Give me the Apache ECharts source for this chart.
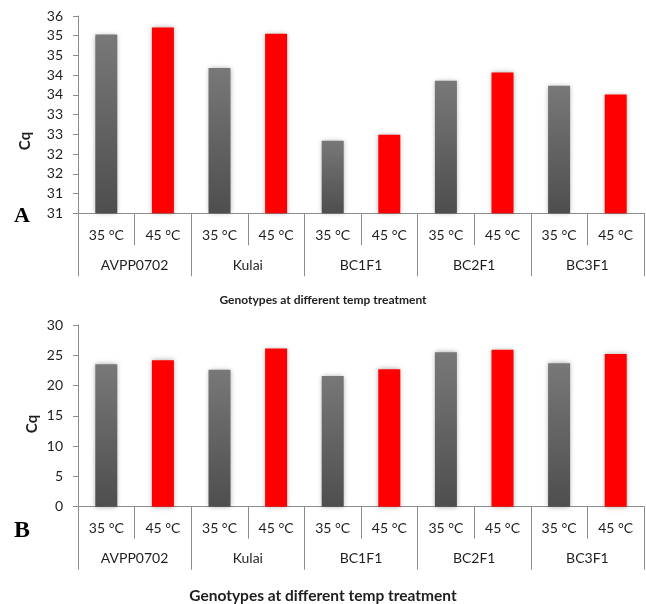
<!DOCTYPE html>
<html>
<head>
<meta charset="utf-8">
<script src="https://cdn.jsdelivr.net/npm/echarts@6/dist/echarts.min.js"></script>
<style>
html,body{margin:0;padding:0;background:#fff;}
#main{width:646px;height:604px;}
</style>
</head>
<body>
<div id="main"></div>
<script>
// ---- data ----
var genotypes = ['AVPP0702', 'Kulai', 'BC1F1', 'BC2F1', 'BC3F1'];
var temps = ['35 °C', '45 °C'];
// Panel A (Cq), order: genotype x temp
var cqA = [35.53, 35.71, 34.68, 35.55, 32.84, 32.99, 34.36, 34.57, 34.23, 34.01];
// Panel B (Cq)
var cqB = [23.5, 24.2, 22.6, 26.1, 21.6, 22.7, 25.5, 25.9, 23.7, 25.2];
var yTicksA = { min: 31, max: 36, step: 0.5 };
var yTicksB = { min: 0, max: 30, step: 5 };
var xTitle = 'Genotypes at different temp treatment';
var yTitle = 'Cq';

// ---- build ----
var cats = [];
genotypes.forEach(function (g) { temps.forEach(function (t) { cats.push(g + '|' + t); }); });

var FONT = 'Lato';
var TXT = '#1e1e1e';
var AX = '#8c8c8c';

var grayGrad = new echarts.graphic.LinearGradient(0, 0, 0, 1, [
  { offset: 0, color: '#787878' }, { offset: 1, color: '#4e4e4e' }
]);
function barData(vals) {
  return vals.map(function (v, i) {
    return {
      value: v,
      itemStyle: { color: (i % 2 === 0) ? grayGrad : '#ff0000' }
    };
  });
}

var grids = [
  { left: 78, right: 2, top: 16, height: 197.3 },
  { left: 78, right: 2, top: 325, height: 181.7 }
];

var xAxes = [], yAxes = [], series = [];
[0, 1].forEach(function (gi) {
  xAxes.push({
    type: 'category', gridIndex: gi, data: cats, position: 'bottom',
    axisLine: { show: true, lineStyle: { color: AX, width: 1 } },
    axisTick: { show: true, interval: 0, length: 32, lineStyle: { color: AX } },
    axisLabel: {
      interval: 0, margin: 15, color: TXT, fontFamily: FONT, fontSize: 14,
      formatter: function (v) { return v.split('|')[1]; }
    },
    splitLine: { show: false }
  });
  xAxes.push({
    type: 'category', gridIndex: gi, data: genotypes, position: 'bottom',
    axisLine: { show: false },
    axisTick: { show: true, interval: 0, length: 63, lineStyle: { color: AX } },
    axisLabel: { interval: 0, margin: 45, color: TXT, fontFamily: FONT, fontSize: 14 },
    splitLine: { show: false }
  });
});

var yt = [yTicksA, yTicksB];
[0, 1].forEach(function (gi) {
  yAxes.push({
    type: 'value', gridIndex: gi,
    min: yt[gi].min, max: yt[gi].max, interval: yt[gi].step,
    axisLine: { show: true, lineStyle: { color: AX } },
    axisTick: { show: true, length: 5, lineStyle: { color: AX } },
    axisLabel: {
      margin: 15, color: TXT, fontFamily: FONT, fontSize: 14,
      formatter: function (v) { return String(Math.floor(v + 1e-9)); }
    },
    splitLine: { show: false }
  });
});

[cqA, cqB].forEach(function (vals, gi) {
  series.push({
    type: 'bar', xAxisIndex: gi * 2, yAxisIndex: gi,
    data: barData(vals), barWidth: 22,
    itemStyle: { shadowBlur: 5, shadowColor: 'rgba(0,0,0,0.35)' },
    silent: true
  });
});

var chart = echarts.init(document.getElementById('main'));
chart.setOption({
  animation: false,
  backgroundColor: '#ffffff',
  grid: grids,
  xAxis: xAxes,
  yAxis: yAxes,
  series: series,
  graphic: [
    { type: 'text', left: 'center', top: 294, style: { text: xTitle, font: 'bold 12px ' + FONT, fill: TXT } },
    { type: 'text', left: 'center', top: 588, style: { text: xTitle, font: 'bold 15.5px ' + FONT, fill: TXT } },
    { type: 'text', x: 25, y: 141, rotation: Math.PI / 2, style: { text: yTitle, font: 'bold 15px ' + FONT, fill: TXT, align: 'center', verticalAlign: 'middle' } },
    { type: 'text', x: 32, y: 424, rotation: Math.PI / 2, style: { text: yTitle, font: 'bold 15px ' + FONT, fill: TXT, align: 'center', verticalAlign: 'middle' } },
    { type: 'text', x: 22, y: 216, style: { text: 'A', font: 'bold 22px "Liberation Serif"', fill: '#000', align: 'center', verticalAlign: 'middle' } },
    { type: 'text', x: 22, y: 531, style: { text: 'B', font: 'bold 24px "Liberation Serif"', fill: '#000', align: 'center', verticalAlign: 'middle' } }
  ]
});
</script>
</body>
</html>
